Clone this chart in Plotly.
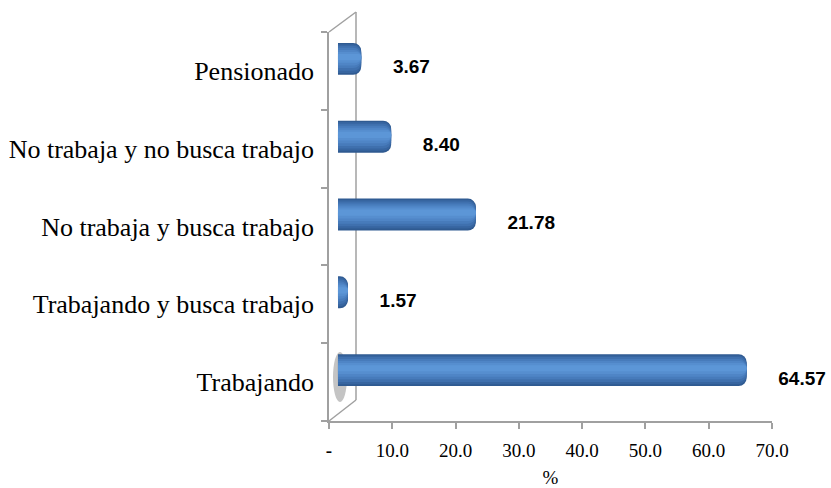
import plotly.graph_objects as go

categories = ["Trabajando", "Trabajando y busca trabajo", "No trabaja y busca trabajo",
              "No trabaja y no busca trabajo", "Pensionado"]
values = [64.57, 1.57, 21.78, 8.40, 3.67]
x_tickvals = [0, 10, 20, 30, 40, 50, 60, 70]
x_ticktext = ["<b>-</b>", "10.0", "20.0", "30.0", "40.0", "50.0", "60.0", "70.0"]
value_labels = ["\u00a0" * 6 + f"{v:.2f}" for v in values]

SERIF = "Liberation Serif"
SANS = "Liberation Sans"
AXIS_GRAY = "#A0A0A0"

W, H = 831, 488
L, R, T, B = 329, 59, 32, 67
pw = W - L - R
ph = H - T - B


def px_x(page_x):
    return (page_x - L) / pw


def px_y(page_y):
    return (H - B - page_y) / ph


fig = go.Figure()

# invisible trace holding the main (visible) axes
fig.add_trace(go.Scatter(x=[0, 70], y=[categories[0], categories[-1]], mode="markers",
                         marker=dict(opacity=0), hoverinfo="skip", showlegend=False,
                         xaxis="x", yaxis="y"))

# cylinder-like bars: layered overlay bars (dark edges, light centre slightly above middle)
layers = [(0.41, 0.0, "#2F5A91"), (0.37, 0.004, "#3765A0"), (0.32, 0.008, "#3F70AE"),
          (0.26, 0.012, "#477BBB"), (0.20, 0.016, "#4F85C6"), (0.14, 0.02, "#568ECF"),
          (0.08, 0.024, "#5C96D7")]
for w, d, c in layers:
    fig.add_trace(go.Bar(
        x=values, y=categories, orientation="h", width=w, offset=-w / 2 + d,
        marker=dict(color=c, line=dict(width=0)),
        xaxis="x2", yaxis="y2", hoverinfo="skip", showlegend=False,
    ))

# value labels (same x scale as the bars, slightly lower than the bar centre)
fig.add_trace(go.Scatter(
    x=values, y=categories, mode="text", text=value_labels,
    textposition="middle right", cliponaxis=False,
    textfont=dict(family=SANS, size=19, color="black", weight="bold"),
    xaxis="x2", yaxis="y3", hoverinfo="skip", showlegend=False,
))

# soft shadow at base of the largest bar
fig.add_shape(type="circle", xref="paper", yref="paper",
              x0=px_x(333), x1=px_x(347), y0=px_y(402), y1=px_y(352),
              fillcolor="rgba(60,60,60,0.3)", line=dict(width=0), layer="below")

# back wall lines (3D frame)
line_style = dict(color=AXIS_GRAY, width=1.5)
bx = px_x(356)
fig.add_shape(type="line", xref="paper", yref="paper", x0=bx, x1=bx, y0=px_y(400), y1=px_y(12),
              line=line_style, layer="below")
fig.add_shape(type="line", xref="paper", yref="paper", x0=0, x1=bx, y0=1, y1=px_y(12),
              line=line_style, layer="below")
fig.add_shape(type="line", xref="paper", yref="paper", x0=0, x1=bx, y0=0, y1=px_y(400),
              line=line_style, layer="below")

cat_range = [-0.5, 4.5]
fig.update_layout(
    width=W, height=H,
    margin=dict(l=L, r=R, t=T, b=B, pad=0, autoexpand=False),
    paper_bgcolor="white", plot_bgcolor="white",
    barmode="overlay",
    barcornerradius=8,
    showlegend=False,
    xaxis=dict(range=[0, 70], tickvals=x_tickvals, ticktext=x_ticktext, anchor="y",
               showgrid=False, zeroline=False, showline=True, linecolor=AXIS_GRAY, linewidth=1.5,
               ticks="outside", ticklen=6, tickcolor=AXIS_GRAY, tickwidth=1.5,
               ticklabelstandoff=5,
               tickfont=dict(family=SERIF, size=19, color="black"),
               title=dict(text="%", font=dict(family=SERIF, size=19, color="black"), standoff=20)),
    yaxis=dict(type="category", categoryorder="array", categoryarray=categories, anchor="x",
               range=cat_range, showgrid=False, zeroline=False, showline=True,
               linecolor=AXIS_GRAY, linewidth=1.5, ticks="outside", ticklen=6,
               tickcolor=AXIS_GRAY, tickwidth=1.5, tickson="boundaries",
               ticklabelstandoff=8,
               tickfont=dict(family=SERIF, size=26, color="black")),
    xaxis2=dict(overlaying="x", anchor="y2", range=[-1.42, 68.58], visible=False),
    yaxis2=dict(overlaying="y", anchor="x2", type="category", categoryorder="array", categoryarray=categories,
                range=[cat_range[0] - 0.154, cat_range[1] - 0.154], visible=False),
    yaxis3=dict(overlaying="y", anchor="x2", type="category", categoryorder="array", categoryarray=categories,
                range=[cat_range[0] - 0.03, cat_range[1] - 0.03], visible=False),
)

fig.write_html("out.html", config={"displayModeBar": False},
               post_script="document.body.style.margin='0';document.body.style.overflow='hidden';")
